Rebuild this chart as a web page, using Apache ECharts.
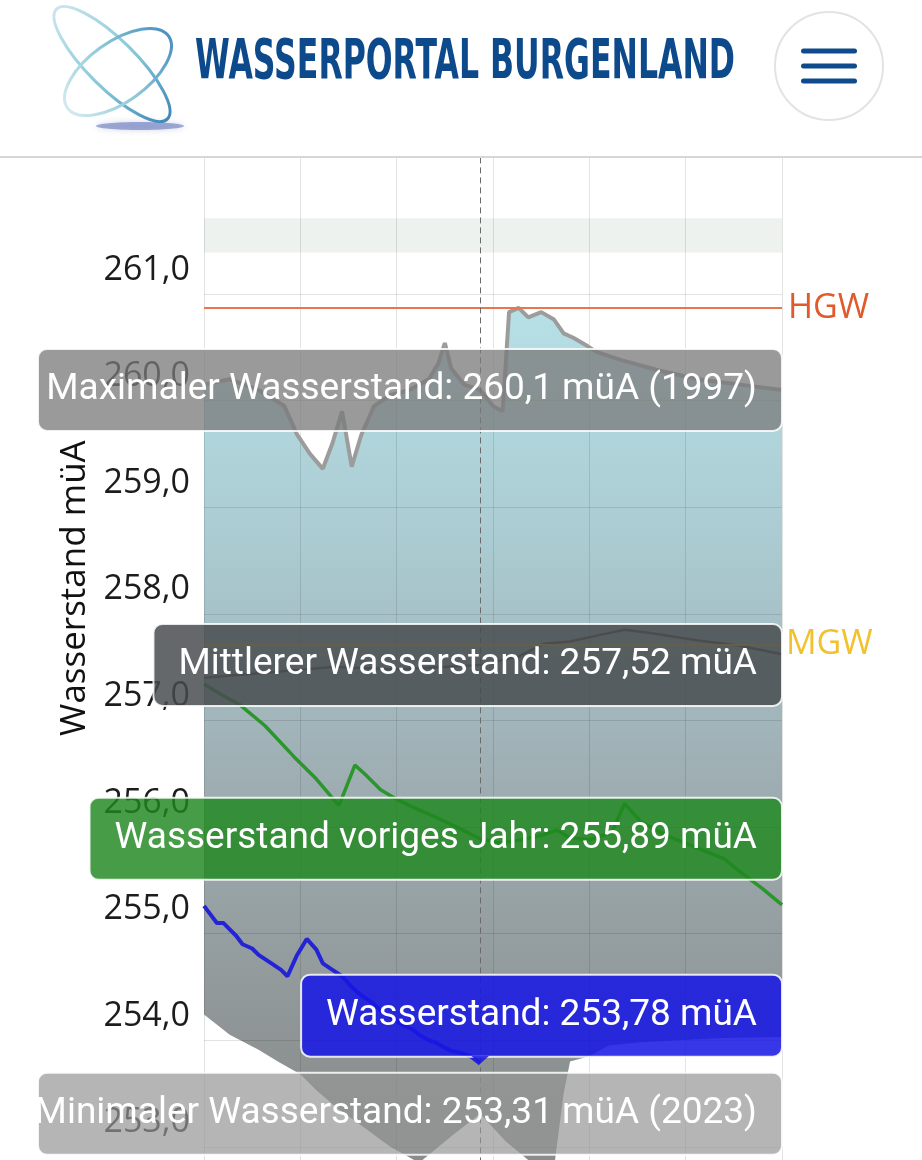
<!DOCTYPE html>
<html><head><meta charset="utf-8">
<script src="https://cdn.jsdelivr.net/npm/echarts@6/dist/echarts.min.js"></script>
<style>html,body{margin:0;padding:0;background:#fff}#c{width:922px;height:1160px}</style>
</head><body><div id="c"></div>
<script>
// ---------- data (day of visible window, water level in müA) ----------
const yTickValues = [253, 254, 255, 256, 257, 258, 259, 260, 261];
const maxLevel = [[0,260.15],[8,260.2],[17,260.1],[25,259.95],[29,259.68],[33,259.5],[37,259.36],[40,259.6],[43,259.9],[46,259.38],[49,259.68],[53,259.95],[58,260.05],[64,260.1],[70,260.2],[73,260.35],[75,260.54],[77,260.3],[81,260.15],[86,260.1],[90,259.95],[93,259.9],[95,260.83],[98,260.87],[101,260.78],[105,260.83],[109,260.76],[112,260.63],[115,260.59],[119,260.52],[122,260.46],[130,260.38],[142,260.28],[154,260.2],[167,260.15],[180,260.1]];
const minLevel = [[0,254.24],[8,254.05],[17,253.91],[23,253.8],[30,253.68],[35,253.53],[42,253.35],[49,253.2],[58,253.0],[67,252.85],[77,253.1],[86,253.31],[94,253.05],[102,252.85],[109,252.8],[112,253.5],[114,253.8],[120,253.85],[126,253.95],[136,253.98],[148,254.0],[161,254.02],[180,254.03]];
const meanLevel = [[0,257.4],[20,257.45],[40,257.5],[60,257.48],[75,257.5],[86,257.52],[98,257.6],[106,257.72],[114,257.74],[123,257.8],[131,257.85],[139,257.82],[154,257.75],[167,257.7],[180,257.62]];
const previousYear = [[0,257.34],[5,257.25],[11,257.15],[19,256.95],[28,256.66],[35,256.45],[42,256.2],[44,256.35],[47,256.58],[50,256.5],[55,256.35],[60,256.26],[64,256.2],[73,256.08],[80,255.98],[86,255.89],[92,255.85],[99,255.88],[106,255.93],[110,255.97],[114,255.9],[120,255.88],[127,255.95],[131,256.22],[136,256.05],[144,255.92],[154,255.8],[162,255.7],[167,255.58],[174,255.42],[180,255.27]];
const currentLevel = [[0,255.26],[2,255.18],[4,255.1],[6,255.1],[8,255.04],[10,254.98],[12,254.9],[15,254.86],[17,254.8],[21,254.72],[24,254.66],[26,254.6],[29,254.8],[32,254.95],[35,254.85],[37,254.72],[40,254.66],[43,254.6],[46,254.5],[49,254.42],[52,254.36],[55,254.28],[59,254.2],[62,254.14],[65,254.1],[67,254.05],[70,254.0],[72,253.98],[75,253.93],[77,253.9],[80,253.88],[83,253.85],[86,253.78]];
const currentDay = 86;
const hgw = 260.87;
const mgw = 257.71;
const bandRange = [261.39, 261.71];
const maxYear = 1997;
const minYear = 2023;
const unit = 'müA';

// ---------- helpers ----------
const valueAt = (arr, d) => { const p = arr.find(q => q[0] === d); return p ? p[1] : null; };
const fmt = v => String(v).replace('.', ',');
const yTicksAll = []; for (let v = 252; v <= 263; v++) yTicksAll.push(v);
const gridColors = yTicksAll.map(v => yTickValues.includes(v) ? 'rgba(0,0,0,0.11)' : 'rgba(0,0,0,0)');

const chart = echarts.init(document.getElementById('c'), null, {renderer: 'canvas', width: 922, height: 1160});
const axisFont = 'Open Sans';

const option = {
  animation: false,
  backgroundColor: '#ffffff',
  grid: {left: 204, width: 578, top: 80.8, height: 1172.6, containLabel: false, outerBoundsMode: 'none'},
  xAxis: {
    type: 'value', min: 0, max: 180, interval: 30, z: 2,
    axisLine: {show: false}, axisTick: {show: false}, axisLabel: {show: false},
    splitLine: {show: true, lineStyle: {color: 'rgba(0,0,0,0.11)', width: 1}}
  },
  yAxis: {
    type: 'value', min: 252, max: 263, interval: 1, z: 2,
    axisLine: {show: false}, axisTick: {show: false},
    axisLabel: {
      fontFamily: axisFont, fontSize: 34, color: '#1c1c1c', margin: 14,
      verticalAlign: 'bottom', lineHeight: 34, padding: [0, 0, 7, 0],
      formatter: v => yTickValues.includes(v) ? v.toFixed(1).replace('.', ',') : ''
    },
    splitLine: {show: true, lineStyle: {color: gridColors, width: 1}},
    name: 'Wasserstand ' + unit, nameLocation: 'middle', nameRotate: 90, nameGap: 108,
    nameTextStyle: {fontFamily: axisFont, fontSize: 35, color: '#111', padding: [0, 0, 0, 158]}
  },
  series: [
    {
      type: 'custom', name: 'Bereich', z: 1, silent: true, clip: true,
      data: [[0, 0]],
      renderItem: (params, api) => {
        const pts = maxLevel.map(p => api.coord(p)).concat(minLevel.slice().reverse().map(p => api.coord(p)));
        return {
          type: 'polygon', shape: {points: pts},
          style: {fill: new echarts.graphic.LinearGradient(0, 300, 0, 1110, [
            {offset: 0, color: '#b7e0e7'},
            {offset: 0.3, color: '#aacbd1'},
            {offset: 0.6, color: '#9eadb2'},
            {offset: 1, color: '#8a8d8d'}
          ], true)}
        };
      }
    },
    {
      type: 'line', name: 'Band', z: 1, data: [], silent: true,
      markArea: {silent: true, itemStyle: {color: '#eef2ef'}, data: [[{yAxis: bandRange[0]}, {yAxis: bandRange[1]}]]}
    },
    {
      type: 'line', name: 'Maximaler Wasserstand', data: maxLevel, z: 3, showSymbol: false, silent: true,
      lineStyle: {color: '#9c9c9c', width: 4}
    },
    {
      type: 'line', name: 'Mittlerer Wasserstand', data: meanLevel, z: 3, showSymbol: false, silent: true,
      lineStyle: {color: '#555a5c', width: 2.5}
    },
    {
      type: 'line', name: 'Wasserstand voriges Jahr', data: previousYear, z: 3, showSymbol: false, silent: true,
      lineStyle: {color: '#2b962b', width: 3.5}
    },
    {
      type: 'line', name: 'Wasserstand', data: currentLevel, z: 3, showSymbol: false, silent: true,
      lineStyle: {color: '#2424d6', width: 4}
    },
    {
      type: 'line', name: 'Grenzwerte', data: [], z: 4, silent: true,
      markLine: {
        symbol: 'none', silent: true, animation: false,
        data: [
          {yAxis: hgw, lineStyle: {color: '#e8764e', width: 2, type: 'solid'},
           label: {show: true, position: 'end', formatter: 'HGW', color: '#e05a2b', fontFamily: axisFont, fontSize: 34, distance: 6}},
          {yAxis: mgw, lineStyle: {color: '#f3c531', width: 2, type: 'solid'},
           label: {show: true, position: 'end', formatter: 'MGW', color: '#f2c12e', fontFamily: axisFont, fontSize: 34, distance: 4}},
          {xAxis: currentDay, lineStyle: {color: '#6a6a6a', width: 1, type: [6, 4]}, label: {show: false}}
        ]
      }
    }
  ]
};
chart.setOption(option);

// ---------- tooltip boxes (split tooltip) ----------
const measure = (() => { const c = document.createElement('canvas').getContext('2d'); return (t, f) => { c.font = f; return c.measureText(t).width; }; })();
const tipFont = '37px Roboto';
const tipItems = [
  {label: 'Maximaler Wasserstand', value: valueAt(maxLevel, currentDay), year: maxYear, bg: 'rgba(122,122,122,0.76)'},
  {label: 'Mittlerer Wasserstand', value: valueAt(meanLevel, currentDay), bg: 'rgba(72,75,78,0.84)'},
  {label: 'Wasserstand voriges Jahr', value: valueAt(previousYear, currentDay), bg: 'rgba(30,135,30,0.82)'},
  {label: 'Wasserstand', value: valueAt(currentLevel, currentDay), bg: 'rgba(22,22,228,0.86)', above: true},
  {label: 'Minimaler Wasserstand', value: valueAt(minLevel, currentDay), year: minYear, bg: 'rgba(150,150,150,0.7)'}
];
const rightEdge = chart.convertToPixel({gridIndex: 0}, [180, 260])[0];
const gfx = [];
tipItems.forEach(it => {
  const txt = it.label + ': ' + fmt(it.value) + ' ' + unit + (it.year ? ' (' + it.year + ')' : '');
  const w = measure(txt, tipFont);
  const p = chart.convertToPixel({gridIndex: 0}, [currentDay, it.value]);
  const h = 82;
  let top = p[1] - h / 2;
  if (it.above) top = p[1] - 7 - h;
  const textRight = rightEdge - 25;
  const left = Math.max(38, textRight - w - 25);
  gfx.push({type: 'rect', z: 50, shape: {x: left, y: top, width: rightEdge - left, height: h, r: 9},
    style: {fill: it.bg, stroke: 'rgba(255,255,255,0.85)', lineWidth: 2}});
  if (it.above) {
    gfx.push({type: 'polygon', z: 51, shape: {points: [[p[0] - 9, top + h - 1], [p[0] + 9, top + h - 1], [p[0], p[1]]]}, style: {fill: it.bg}});
  }
  gfx.push({type: 'text', z: 52, x: textRight, y: top + h / 2,
    style: {text: txt, font: tipFont, fill: '#ffffff', align: 'right', verticalAlign: 'middle', textAlign: 'right', textVerticalAlign: 'middle'}});
});

// ---------- header ----------
const titleText = 'WASSERPORTAL BURGENLAND';
const titleFont = 'bold 56px "DejaVu Sans"';
const titleScale = 540 / measure(titleText, titleFont);
gfx.push({type: 'rect', z: 90, shape: {x: 0, y: 0, width: 922, height: 157}, style: {fill: '#ffffff'}});
gfx.push({type: 'rect', z: 91, shape: {x: 0, y: 156, width: 922, height: 2}, style: {fill: '#d6d6d6'}});
gfx.push({type: 'ellipse', z: 92, shape: {cx: 140, cy: 126, rx: 44, ry: 4}, style: {fill: 'rgba(90,110,180,0.55)', shadowBlur: 6, shadowColor: 'rgba(90,110,180,0.5)'}});
gfx.push({type: 'ellipse', z: 92, x: 112, y: 64, rotation: -0.78, shape: {cx: 0, cy: 0, rx: 78, ry: 24},
  style: {fill: 'none', stroke: new echarts.graphic.LinearGradient(0, 0, 1, 0, [{offset: 0, color: '#c9e6ee'}, {offset: 0.6, color: '#7ec3d6'}, {offset: 1, color: '#3f86b8'}]), lineWidth: 3}});
gfx.push({type: 'ellipse', z: 92, x: 118, y: 72, rotation: 0.62, shape: {cx: 0, cy: 0, rx: 62, ry: 30},
  style: {fill: 'none', stroke: new echarts.graphic.LinearGradient(0, 0, 1, 0, [{offset: 0, color: '#d5eaf0'}, {offset: 0.5, color: '#8cc9d9'}, {offset: 1, color: '#4a8fc0'}]), lineWidth: 3}});
gfx.push({type: 'text', z: 93, x: 195, y: 63, scaleX: titleScale, scaleY: 1,
  style: {text: titleText, font: titleFont, fill: '#0d4a8c', align: 'left', verticalAlign: 'middle', textAlign: 'left', textVerticalAlign: 'middle'}});
gfx.push({type: 'circle', z: 92, shape: {cx: 829, cy: 66, r: 54}, style: {fill: '#ffffff', stroke: '#e3e3e3', lineWidth: 2}});
[51, 66, 81].forEach(y => gfx.push({type: 'rect', z: 93, shape: {x: 801, y: y - 2.5, width: 56, height: 5, r: 2.5}, style: {fill: '#0f4a8c'}}));

chart.setOption({graphic: {elements: gfx}});
</script>
</body></html>
